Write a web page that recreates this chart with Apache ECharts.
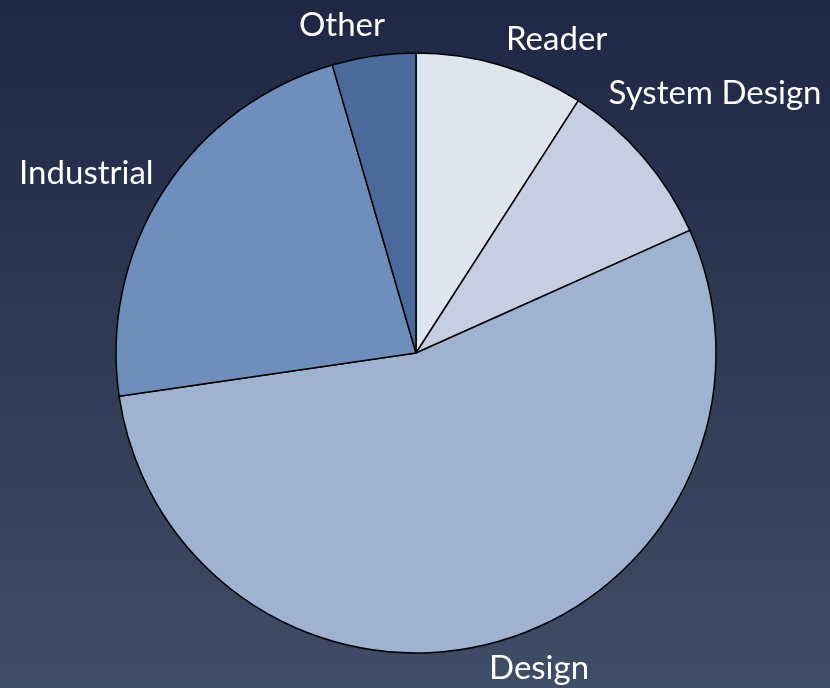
<!DOCTYPE html>
<html>
<head>
<meta charset="utf-8">
<script src="https://cdn.jsdelivr.net/npm/echarts@6/dist/echarts.min.js"></script>
<style>
  html, body { margin: 0; padding: 0; }
  #chart { width: 830px; height: 688px; }
</style>
</head>
<body>
<div id="chart"></div>
<script>
// slices, clockwise from 12 o'clock
const categories = ["Reader", "System Design", "Design", "Industrial", "Other"];
const values = [9.1, 9.2, 54.4, 22.8, 4.5];
const colors = ["#dfe5ef", "#c5cfe1", "#9fb2cf", "#6e8fbb", "#4a6a9b"];
// nudge labels to where the original tool put them
const labelNudge = [[-3, -14], [-49, -56], [-19, 16], [5, -11], [18, -19]];

let chart = echarts.init(document.getElementById("chart"));
chart.setOption({
  backgroundColor: {
    type: "linear", x: 0, y: 0, x2: 0, y2: 1,
    colorStops: [
      { offset: 0, color: "#1e2744" },
      { offset: 1, color: "#404d66" },
    ],
  },
  animation: false,
  series: [
    {
      type: "pie",
      center: [416, 353],
      radius: 300,
      startAngle: 90,
      clockwise: true,
      data: categories.map((name, i) => ({
        name: name,
        value: values[i],
        itemStyle: { color: colors[i] },
        label: { offset: labelNudge[i] },
      })),
      itemStyle: { borderColor: "#000", borderWidth: 1.5 },
      label: {
        show: true,
        position: "outside",
        formatter: "{b}",
        color: "#fff",
        fontFamily: "Lato",
        fontSize: 33,
        overflow: "none",
      },
      labelLine: { show: false, length: 12, length2: 0 },
      emphasis: { disabled: true },
    },
  ],
});
</script>
</body>
</html>
